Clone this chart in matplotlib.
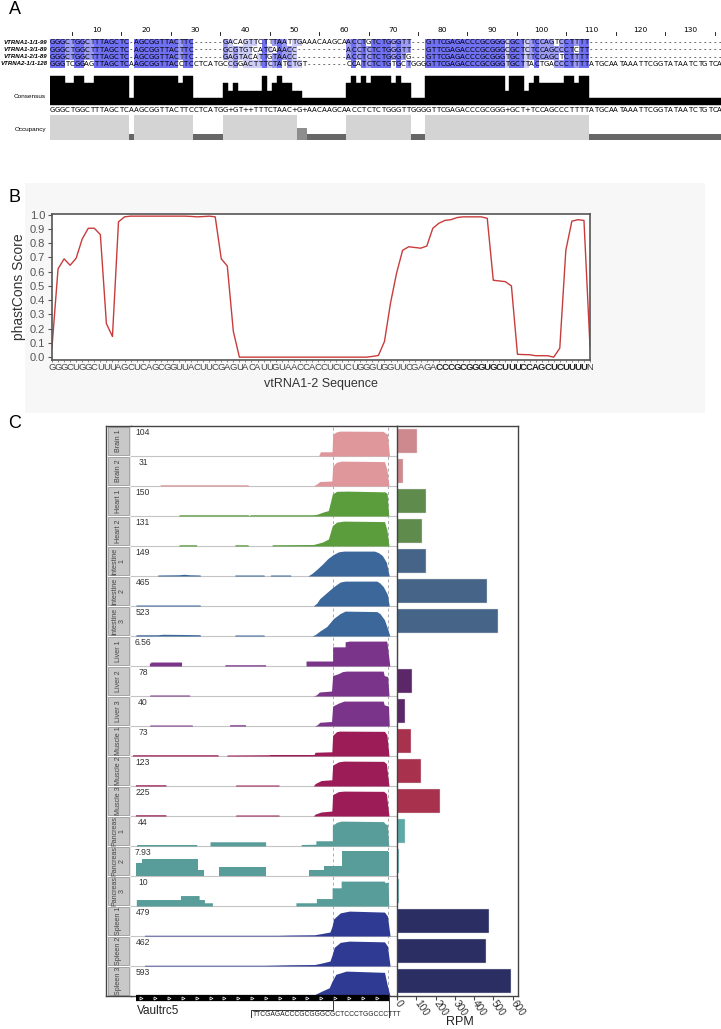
import numpy as np
import matplotlib
matplotlib.use("Agg")
import matplotlib.pyplot as plt
from matplotlib.patches import Rectangle

# ---------------- DATA ----------------
# Panel A: alignment
seq_names = ["VTRNA1-1/1-99", "VTRNA1-3/1-89", "VTRNA1-2/1-89", "VTRNA2-1/1-128"]
aln_part1 = [
    "GGGCTGGCTTTAGCTC-AGCGGTTACTTC------GACAGTTCTTTAATTGAAACAAGCAACC",
    "GGGCTGGCTTTAGCTC-AGCGGTTACTTC------GCGTGTCATCAAACC----------ACC",
    "GGGCTGGCTTTAGCTC-AGCGGTTACTTC------GAGTACATTGTAACC----------ACC",
    "GGGTCGGAGTTAGCTCAAGCGGTTACCTCCTCATGCCGGACTTTCTATCTGT--------CCA",
]
aln_part2 = [
    "TGTCTGGGTT---GTTCGAGACCCGCGGGCGCTCTCCAGTCCTTTT---------------------------",
    "TCTCTGGGTT---GTTCGAGACCCGCGGGCGCTCTCCAGCCCTCTT---------------------------",
    "TCTCTGGGTG---GTTCGAGACCCGCGGGTGCTTTCCAGCTCTTTT---------------------------",
    "TCTCTGTGCTGGGGTTCGAGACCCGCGGGTGCTTACTGACCCTTTTATGCAATAAATTCGGTATAATCTGTCA",
]
ruler_numbers = [10, 20, 30, 40, 50, 60, 70, 80, 90, 100, 110, 120, 130]

# Panel B: phastCons
vt_seq = "GGGCUGGCUUUAGCUCAGCGGUUACUUCGAGUACAUUGUAACCACCUCUCUGGGUGGUUCGAGACCCGCGGGUGCUUUCCAGCUCUUUUN"
bold_start, bold_end = 64, 88
phast = [0.07, 0.62, 0.69, 0.645, 0.695, 0.83, 0.905, 0.905, 0.86, 0.235,
         0.145, 0.95, 0.985, 0.99, 0.99, 0.99, 0.99, 0.99, 0.99, 0.99,
         0.99, 0.99, 0.99, 0.988, 0.985, 0.987, 0.99, 0.985, 0.69, 0.64,
         0.18, 0.0, 0.0, 0.0, 0.0, 0.0, 0.0, 0.0, 0.0, 0.0,
         0.0, 0.0, 0.0, 0.0, 0.0, 0.0, 0.0, 0.0, 0.0, 0.0,
         0.0, 0.0, 0.0, 0.005, 0.012, 0.11, 0.38, 0.59, 0.75, 0.775,
         0.77, 0.765, 0.78, 0.905, 0.94, 0.96, 0.965, 0.98, 0.985, 0.985,
         0.985, 0.985, 0.975, 0.54, 0.535, 0.53, 0.5, 0.02, 0.018, 0.017,
         0.01, 0.01, 0.01, 0.0, 0.063, 0.75, 0.955, 0.965, 0.96, 0.075]

# Panel C: coverage tracks + RPM
row_labels = ["Brain 1", "Brain 2", "Heart 1", "Heart 2", "Intestine\n1", "Intestine\n2",
              "Intestine\n3", "Liver 1", "Liver 2", "Liver 3", "Muscle 1", "Muscle 2",
              "Muscle 3", "Pancreas\n1", "Pancreas\n2", "Pancreas\n3", "Spleen 1",
              "Spleen 2", "Spleen 3"]
scale_labels = ["104", "31", "150", "131", "149", "465", "523", "6.56", "78", "40", "73",
                "123", "225", "44", "7.93", "10", "479", "462", "593"]
rpm = [104, 31, 150, 131, 149, 465, 523, 6.56, 78, 40, 73, 123, 225, 44, 7.93, 10, 479, 462, 593]
tissue = ["Brain"] * 2 + ["Heart"] * 2 + ["Intestine"] * 3 + ["Liver"] * 3 + \
         ["Muscle"] * 3 + ["Pancreas"] * 3 + ["Spleen"] * 3
track_color = {"Brain": "#e0979c", "Heart": "#5b9d3d", "Intestine": "#3b679b",
               "Liver": "#7a3489", "Muscle": "#9b1c57", "Pancreas": "#589d99",
               "Spleen": "#2f3a93"}
bar_color = {"Brain": "#cd898e", "Heart": "#5f8b4c", "Intestine": "#456487",
             "Liver": "#5b2769", "Muscle": "#a8324e", "Pancreas": "#5ca9a7",
             "Spleen": "#2b2e63"}
# coverage profiles: (relative position 0-100, height relative to row max)
profiles = [
    [(70.5, 0), (71.2, 0.17), (75.6, 0.17), (75.8, 0.86), (77, 0.96), (78.5, 1.0), (94.8, 0.99), (95.5, 0.93), (96.4, 0.88), (96.9, 0.3), (97.2, 0)],
    [(10.9, 0), (11, 0.05), (44, 0.05), (44.1, 0), (68.5, 0), (69.5, 0.06), (71, 0.18), (75.5, 0.2), (75.8, 0.8), (77.2, 0.95), (79, 1.0), (95.3, 0.98), (96.2, 0.66), (97, 0)],
    [(18, 0), (18.1, 0.05), (44, 0.05), (44.3, 0.02), (45, 0.05), (68.5, 0.05), (70, 0.07), (72, 0.15), (74.2, 0.22), (75.7, 0.88), (77.3, 0.99), (81, 1.0), (95.5, 0.97), (96.3, 0.9), (96.9, 0)],
    [(18, 0), (18.1, 0.05), (24.6, 0.05), (24.7, 0), (39, 0), (39.1, 0.05), (44, 0.05), (44.1, 0), (53, 0), (53.1, 0.05), (68.5, 0.06), (70, 0.1), (72, 0.16), (74.2, 0.28), (75.7, 0.82), (77.3, 0.96), (80, 1.0), (95.3, 0.98), (96.2, 0.65), (97, 0)],
    [(10, 0), (10.1, 0.04), (18, 0.05), (20, 0.07), (22, 0.05), (26, 0.04), (26.1, 0), (39, 0), (39.1, 0.04), (50, 0.04), (50.1, 0), (52.4, 0), (52.5, 0.04), (60, 0.04), (60.1, 0), (66.5, 0), (68, 0.1), (70, 0.28), (72, 0.48), (74, 0.7), (76, 0.86), (78, 0.97), (80, 1.0), (91.5, 1.0), (93, 0.94), (94.5, 0.82), (96, 0.55), (97, 0.05), (97.1, 0)],
    [(1.8, 0), (1.9, 0.04), (26, 0.04), (26.1, 0), (68.5, 0), (69.8, 0.11), (71, 0.3), (73.6, 0.54), (76.1, 0.77), (78.6, 0.96), (80.5, 1.0), (92.4, 1.0), (93.6, 0.92), (94.9, 0.77), (96.4, 0.46), (97.1, 0)],
    [(1.8, 0), (1.9, 0.05), (10, 0.05), (12, 0.07), (20, 0.06), (26, 0.05), (26.1, 0), (39, 0), (39.1, 0.04), (50, 0.04), (50.1, 0), (68, 0), (69.3, 0.06), (71, 0.2), (73.6, 0.38), (76.1, 0.7), (78.6, 0.9), (80.5, 1.0), (92.4, 0.98), (93.6, 0.9), (95.3, 0.65), (96.6, 0.25), (97.3, 0)],
    [(6.9, 0), (6.9, 0.12), (7.4, 0.12), (7.4, 0.16), (19, 0.16), (19, 0), (35.3, 0), (35.3, 0.05), (50.6, 0.05), (50.6, 0), (65.8, 0), (65.8, 0.2), (75.8, 0.2), (75.8, 0.77), (80.5, 0.77), (80.5, 0.97), (82, 1.0), (96.1, 1.0), (96.3, 0.9), (97.3, 0)],
    [(7, 0), (7.1, 0.04), (22, 0.04), (22.1, 0), (68.5, 0), (69.8, 0.05), (70.8, 0.16), (75.4, 0.2), (75.8, 0.82), (78, 0.9), (79.5, 0.98), (81, 1.0), (94.8, 1.0), (95.2, 0.82), (96.5, 0.78), (97, 0)],
    [(7, 0), (7.1, 0.04), (23, 0.04), (23.1, 0), (37, 0), (37.1, 0.05), (43, 0.05), (43.1, 0), (69, 0), (70, 0.05), (71, 0.15), (75.4, 0.18), (75.8, 0.8), (78, 0.92), (80, 1.0), (94.8, 1.0), (95.2, 0.85), (96.8, 0.8), (97.1, 0)],
    [(0.5, 0), (0.6, 0.05), (32.7, 0.05), (32.8, 0), (36, 0), (36.1, 0.04), (52, 0.05), (52.1, 0.06), (68.8, 0.06), (69.2, 0.15), (75.5, 0.17), (75.8, 0.83), (77.3, 0.98), (78.5, 1.0), (95.3, 0.99), (96.2, 0.85), (97, 0)],
    [(1.6, 0), (1.7, 0.05), (13.1, 0.05), (13.2, 0), (39.3, 0), (39.4, 0.04), (55.6, 0.04), (55.7, 0), (68.5, 0), (69.3, 0.1), (71.5, 0.22), (75.5, 0.25), (75.8, 0.84), (78, 0.97), (80, 1.0), (95, 0.99), (96, 0.9), (97, 0)],
    [(1.6, 0), (1.7, 0.05), (13.1, 0.05), (13.2, 0), (39.3, 0), (39.4, 0.04), (55.6, 0.04), (55.7, 0), (68.5, 0), (69.3, 0.08), (71.5, 0.16), (75.5, 0.2), (75.8, 0.86), (78, 0.98), (80, 1.0), (95, 0.99), (96, 0.9), (97, 0)],
    [(2.1, 0), (2.1, 0.06), (24.7, 0.06), (24.7, 0), (29.7, 0), (29.7, 0.17), (50.6, 0.17), (50.6, 0), (64, 0), (64, 0.06), (69.5, 0.07), (69.5, 0.21), (75.7, 0.21), (75.7, 0.83), (77.3, 0.95), (79, 1.0), (94.9, 0.98), (95.5, 0.9), (96.4, 0.85), (96.9, 0)],
    [(1.9, 0), (1.9, 0.52), (4, 0.52), (4, 0.675), (25.2, 0.675), (25.2, 0.24), (27.6, 0.24), (27.6, 0), (33.1, 0), (33.1, 0.38), (50.6, 0.38), (50.6, 0), (66.9, 0), (66.9, 0.23), (72.4, 0.23), (72.4, 0.39), (79.3, 0.39), (79.3, 1.0), (96.5, 1.0), (96.5, 0.95), (96.9, 0.95), (96.9, 0)],
    [(2, 0), (2, 0.26), (18.6, 0.26), (18.6, 0.42), (25.6, 0.42), (25.6, 0.26), (27.6, 0.26), (27.6, 0.13), (30.6, 0.13), (30.6, 0), (62, 0), (62, 0.13), (69.7, 0.13), (69.7, 0.3), (75.6, 0.3), (75.6, 0.73), (79, 0.73), (79, 1.0), (95.3, 1.0), (95.3, 0.95), (96.7, 0.95), (96.9, 0)],
    [(5, 0), (5.1, 0.03), (55, 0.03), (60, 0.04), (69, 0.05), (71.8, 0.1), (74.8, 0.16), (75.6, 0.4), (76.2, 0.69), (78.7, 0.93), (82.1, 1.0), (95.3, 0.96), (96.4, 0.8), (97.4, 0)],
    [(5, 0), (5.1, 0.03), (50, 0.03), (60, 0.05), (69, 0.06), (71.8, 0.12), (74.8, 0.2), (75.6, 0.45), (76.4, 0.75), (78.7, 0.95), (82.1, 1.0), (95.3, 0.97), (96.4, 0.8), (97.4, 0)],
    [(68, 0), (69.5, 0.08), (71.8, 0.2), (74.5, 0.33), (75.6, 0.6), (77, 0.87), (80.9, 1.0), (95.3, 0.95), (96.3, 0.45), (97.4, 0)],
]
dashed_pos = [75.8, 96.8]
gene_span = (1.9, 97.0)
gene_name = "Vaultrc5"
frag_seq = "TTCGAGACCCGCGGGCGCTCCCTGGCCCTTT"
rpm_ticks = [0, 100, 200, 300, 400, 500, 600]

# ---------------- FIGURE ----------------
W, H = 721, 1029
fig = plt.figure(figsize=(W / 100, H / 100), dpi=100)
plt.rcParams['font.family'] = ['Liberation Sans', 'DejaVu Sans']


def px_axes(x0, y0, x1, y1, **kw):
    return fig.add_axes([x0 / W, 1 - y1 / H, (x1 - x0) / W, (y1 - y0) / H], **kw)


# panel B faint background (behind everything)
bg = px_axes(25, 183, 705, 413, zorder=-5)
bg.set_facecolor("#f7f7f7")
bg.set_xticks([])
bg.set_yticks([])
for s in bg.spines.values():
    s.set_visible(False)

# ---------------- PANEL A ----------------
seqs = [a + b for a, b in zip(aln_part1, aln_part2)]
ncol = len(seqs[0])
colw = 4.944
x0A = 49.7
axA = px_axes(x0A, 0, W, 145)
axA.set_xlim(0.5, 0.5 + (W - x0A) / colw)
axA.set_ylim(145, 0)
axA.axis("off")

row_top0, pitch = 38.5, 7.25
nseq = len(seqs)
cons_letters, cons_h, occ = [], [], []
for c in range(ncol):
    col = [s[c] for s in seqs]
    res = [ch for ch in col if ch != "-"]
    counts = {}
    for ch in res:
        counts[ch] = counts.get(ch, 0) + 1
    mx = max(counts.values())
    tops = [k for k, v in counts.items() if v == mx]
    cons_letters.append(tops[0] if len(tops) == 1 else "+")
    cons_h.append(mx / nseq)
    occ.append(len(res))
    for r, ch in enumerate(col):
        y = row_top0 + r * pitch
        if ch != "-":
            frac = counts[ch] / nseq
            fc = None
            if frac > 0.8:
                fc = "#7070f2"
            elif frac > 0.6:
                fc = "#9c9cf4"
            elif frac > 0.4:
                fc = "#cdcdf7"
            if fc:
                axA.add_patch(Rectangle((c + 0.5, y), 1, pitch, facecolor=fc, edgecolor="none"))
        axA.text(c + 1, y + pitch / 2 + 0.3, ch, ha="center", va="center", fontsize=5.0,
                 family="DejaVu Sans", color="black")

cols = np.arange(1, ncol + 1)
hist_full, hist_base = 29, 105
ch_arr = np.array(cons_h) * hist_full
axA.bar(cols, ch_arr, bottom=hist_base - ch_arr, width=1.0, color="black", edgecolor="black", linewidth=0.3)
for c, l in enumerate(cons_letters):
    axA.text(c + 1, 110, l, ha="center", va="center", fontsize=5.0, family="DejaVu Sans")
occ_full, occ_base = 25, 140
occ_colors = {1: "#676767", 2: "#8e8e8e", 3: "#b0b0b0", 4: "#d4d4d4"}
occ_h = np.array(occ) / nseq * occ_full
axA.bar(cols, occ_h, bottom=occ_base - occ_h, width=1.0,
        color=[occ_colors[o] for o in occ], edgecolor="none")
for n in ruler_numbers:
    axA.text(n, 30, str(n), ha="center", va="center", fontsize=5.4, family="DejaVu Sans")
for t in range(5, ncol, 10):
    axA.plot([t, t], [32, 34.5], color="black", lw=0.6)

# ---------------- PANEL B ----------------
axB = px_axes(52, 214, 590, 360)
xb = np.arange(len(phast))
axB.plot(xb, phast, color="#c83c3c", lw=1.0)
axB.set_xlim(0, len(phast) - 1)
axB.set_ylim(-0.02, 1.005)
yt = np.round(np.arange(0, 1.01, 0.1), 1)
axB.set_yticks(yt)
axB.set_yticklabels([f"{v:.1f}" for v in yt], fontsize=8, color="#555555")
axB.set_xticks(xb)
axB.set_xticklabels(list(vt_seq), fontsize=6.8, color="#444444")
for i, lbl in enumerate(axB.get_xticklabels()):
    if bold_start <= i <= bold_end:
        lbl.set_fontweight("bold")
        lbl.set_color("#222222")
axB.tick_params(axis="x", length=1.5, pad=1, width=0.5, color="#555555")
axB.tick_params(axis="y", length=3, pad=2, color="#555555")
for s in axB.spines.values():
    s.set_color("#555555")
    s.set_linewidth(1.2)
axB.set_ylabel("phastCons Score", fontsize=10, color="#333333", labelpad=3)
axB.set_xlabel("vtRNA1-2 Sequence", fontsize=9, color="#333333", labelpad=4)

# ---------------- PANEL C ----------------
nrows = len(row_labels)
top_c, bot_c = 426, 996
axL = px_axes(106, top_c, 131, bot_c)
axT = px_axes(131, top_c, 397, bot_c)
axR = px_axes(397, top_c, 518, bot_c)

# label strip
axL.set_xlim(0, 1)
axL.set_ylim(nrows, 0)
axL.set_xticks([])
axL.set_yticks([])
for i, lab in enumerate(row_labels):
    axL.add_patch(Rectangle((0.06, i + 0.03), 0.88, 0.94, facecolor="#c8c8c8", edgecolor="#9a9a9a", lw=0.6))
    axL.text(0.5, i + 0.5, lab, rotation=90, ha="center", va="center", fontsize=5.1,
             color="#444444", linespacing=0.95)
for k, s in axL.spines.items():
    s.set_color("#444444" if k != "right" else "#888888")
    s.set_linewidth(1.0)

# tracks
axT.set_xlim(0, 100)
axT.set_ylim(nrows, 0)
axT.set_xticks([])
axT.set_yticks([])
for k in ("left", "right"):
    axT.spines[k].set_visible(False)
for k in ("top", "bottom"):
    axT.spines[k].set_color("#444444")
    axT.spines[k].set_linewidth(1.0)
for xd in dashed_pos:
    axT.axvline(xd, color="#aaaaaa", lw=0.7, ls=(0, (3, 3)), zorder=1)
for i in range(1, nrows):
    axT.axhline(i, color="#c4c4c4", lw=0.8, zorder=1.5)
peak = 0.83
for i, prof in enumerate(profiles):
    px = np.array([p[0] for p in prof])
    ph = np.array([p[1] for p in prof])
    axT.fill_between(px, i + 1, i + 1 - ph * peak, color=track_color[tissue[i]], lw=0, zorder=2)
    axT.text(4.5, i + 0.22, scale_labels[i], ha="center", va="center", fontsize=6.2, color="#333333")

# gene ruler
axT.plot(gene_span, [nrows + 0.06, nrows + 0.06], color="black", lw=4.5, solid_capstyle="butt",
         clip_on=False, zorder=3)
chev = np.arange(gene_span[0] + 2, gene_span[1], 5.2)
axT.plot(chev, np.full(len(chev), nrows + 0.06), ls="none", marker=">", ms=2.2,
         markerfacecolor="none", markeredgecolor="white", mew=0.5, clip_on=False, zorder=4)

# bars
bar_y = np.arange(nrows) + 0.5
axR.barh(bar_y, rpm, height=0.8, color=[bar_color[t] for t in tissue], edgecolor="#dddddd", lw=0.3)
axR.set_ylim(nrows, 0)
axR.set_xlim(0, 627)
axR.set_yticks([])
axR.set_xticks(rpm_ticks)
axR.set_xticklabels([str(t) for t in rpm_ticks], rotation=-55, ha="left", va="center",
                    rotation_mode="anchor", fontsize=7.3, color="#333333")
axR.tick_params(axis="x", length=3, pad=1, color="#444444")
for s in axR.spines.values():
    s.set_color("#444444")
    s.set_linewidth(1.0)

# ---------------- OVERLAY TEXT ----------------
ov = fig.add_axes([0, 0, 1, 1], zorder=10)
ov.set_xlim(0, W)
ov.set_ylim(H, 0)
ov.axis("off")
ov.patch.set_alpha(0)

ov.text(15, 9, "A", fontsize=13, ha="center", va="center")
ov.text(15, 198, "B", fontsize=13, ha="center", va="center")
ov.text(15, 423, "C", fontsize=13, ha="center", va="center")
for r, nm in enumerate(seq_names):
    ov.text(47.5, row_top0 + r * pitch + pitch / 2, nm, ha="right", va="center", fontsize=4.4,
            style="italic", weight="bold")
ov.text(46, 96, "Consensus", ha="right", va="center", fontsize=4.6)
ov.text(46, 130, "Occupancy", ha="right", va="center", fontsize=4.6)

ov.text(137, 1011, gene_name, ha="left", va="center", fontsize=8.5, color="#222222")
ov.text(253, 1014, frag_seq, ha="left", va="center", fontsize=4.9, color="#222222")
ov.plot([251, 251, 332.5, 332.5], [1017, 1010, 1010, 997], color="#333333", lw=0.7)
ov.plot([389, 389], [996, 1017], color="#333333", lw=0.7)
ov.text(460, 1022, "RPM", ha="center", va="center", fontsize=9, color="#222222")

fig.savefig("out.png", dpi=100)
